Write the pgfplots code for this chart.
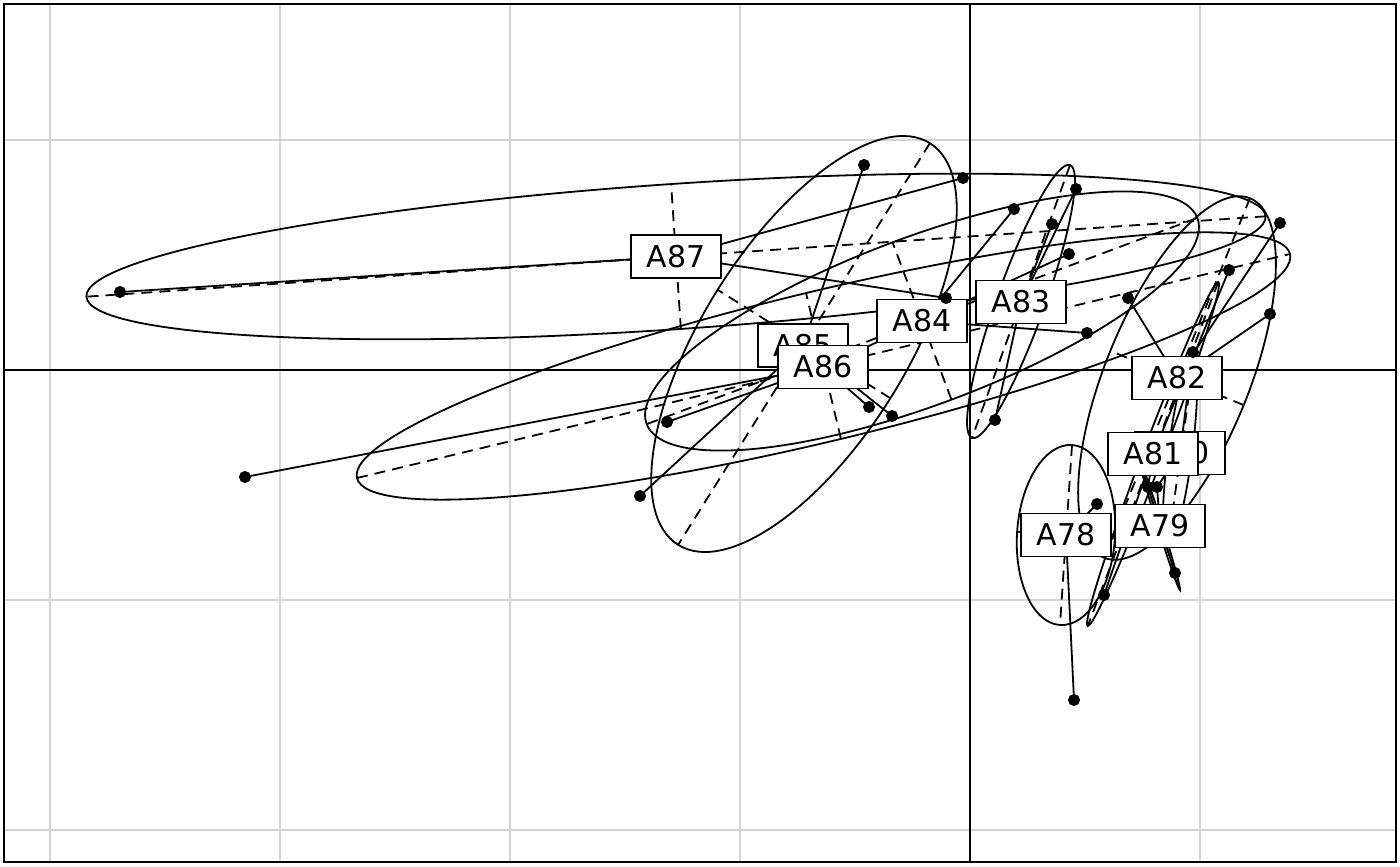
\documentclass[border=0pt]{standalone}
\usepackage{fontspec}
\setmainfont{DejaVu Sans}
\usepackage{pgfplots}
\pgfplotsset{compat=1.18}
\tikzset{
  ell/.style={line width=0.9pt},
  dsh/.style={black, line width=0.9pt, dash pattern=on 5.5pt off 3.5pt},
  st/.style={black, line width=0.9pt},
  lbl/.style={draw, fill=white, line width=0.9pt, inner sep=0pt, minimum width=45pt, minimum height=21.5pt, font=\fontsize{15}{18}\selectfont},
}
\newcommand{\seg}[5]{\addplot[#1, mark=none] coordinates {(#2,#3) (#4,#5)};}
\begin{document}
\begin{tikzpicture}
\begin{axis}[
  x=115pt, y=115pt, scale only axis,
  xmin=-4.2, xmax=1.8522, ymin=-2.1391, ymax=1.5913,
  xtick={-4,-3,-2,-1,1}, ytick={-2,-1,1},
  xticklabels={}, yticklabels={},
  major tick length=0pt,
  grid=major, grid style={color=black!17, line width=1pt},
  axis line style={line width=0.8pt},
]
% axes through origin
\seg{st}{0}{-2.1391}{0}{1.5913}
\seg{st}{-4.2}{0}{1.8522}{0}
% ellipses
\draw[ell, rotate around={3.9:(axis cs:-1.2783,0.4935)}] (axis cs:-1.2783,0.4935) ellipse [x radius=295.5pt, y radius=36.3pt];
\draw[ell, rotate around={13.5:(axis cs:-0.637,0.0174)}] (axis cs:-0.637,0.0174) ellipse [x radius=239.9pt, y radius=37.5pt];
\draw[ell, rotate around={57.9:(axis cs:-0.7217,0.1130)}] (axis cs:-0.7217,0.1130) ellipse [x radius=118.5pt, y radius=51pt];
\draw[ell, rotate around={20.5:(axis cs:-0.2087,0.2130)}] (axis cs:-0.2087,0.2130) ellipse [x radius=147pt, y radius=42pt];
\draw[ell, rotate around={70.25:(axis cs:0.2217,0.2978)}] (axis cs:0.2217,0.2978) ellipse [x radius=72.5pt, y radius=12pt];
\draw[ell, rotate around={67.9:(axis cs:0.9,-0.0348)}] (axis cs:0.9,-0.0348) ellipse [x radius=97pt, y radius=36pt];
\draw[ell, rotate around={69.2:(axis cs:0.7957,-0.3652)}] (axis cs:0.7957,-0.3652) ellipse [x radius=92pt, y radius=5pt];
\draw[ell, rotate around={82.5:(axis cs:0.9130,-0.3609)}] (axis cs:0.9130,-0.3609) ellipse [x radius=47.5pt, y radius=6pt];
\draw[ell, rotate around={-72.7:(axis cs:0.8261,-0.6783)}] (axis cs:0.8261,-0.6783) ellipse [x radius=33.5pt, y radius=1.2pt];
\draw[ell, rotate around={86.2:(axis cs:0.4174,-0.7174)}] (axis cs:0.4174,-0.7174) ellipse [x radius=45.1pt, y radius=24.5pt];
% ellipse axes (dashed)
\seg{dsh}{1.2861}{0.6683}{-3.8426}{0.3187}
\seg{dsh}{-1.2570}{0.1783}{-1.2996}{0.8087}
\seg{dsh}{-2.6652}{-0.4696}{1.3913}{0.5043}
\seg{dsh}{-0.5609}{-0.3}{-0.7130}{0.3348}
\seg{dsh}{-0.1739}{0.9870}{-1.2696}{-0.7609}
\seg{dsh}{-0.3457}{-0.1230}{-1.0978}{0.3491}
\seg{dsh}{0.9870}{0.6609}{-1.4043}{-0.2348}
\seg{dsh}{-0.0809}{-0.1283}{-0.3365}{0.5543}
\seg{dsh}{0.4348}{0.8913}{0.0087}{-0.2957}
\seg{dsh}{0.32}{0.2626}{0.1235}{0.3330}
\seg{dsh}{1.2174}{0.7478}{0.5826}{-0.8174}
\seg{dsh}{1.19}{-0.1526}{0.61}{0.0830}
\seg{dsh}{1.0796}{0.3832}{0.5118}{-1.1136}
\seg{dsh}{0.8322}{-0.3791}{0.7591}{-0.3513}
\seg{dsh}{0.9739}{0.0478}{0.8591}{-0.7696}
\seg{dsh}{0.9517}{-0.3678}{0.8743}{-0.3539}
\seg{dsh}{0.9130}{-0.9565}{0.7391}{-0.4}
\seg{dsh}{0.4435}{-0.3261}{0.3913}{-1.1087}
\seg{dsh}{0.63}{-0.7317}{0.2048}{-0.7030}
% star lines
\seg{st}{-1.2783}{0.4935}{-3.6957}{0.3391}
\seg{st}{-1.2783}{0.4935}{-0.0304}{0.8348}
\seg{st}{-1.2783}{0.4935}{-0.1043}{0.3130}
\seg{st}{-0.6391}{0.0130}{-3.1522}{-0.4652}
\seg{st}{-0.6391}{0.0130}{-1.3174}{-0.2261}
\seg{st}{-0.6391}{0.0130}{-0.4391}{-0.1609}
\seg{st}{-0.6391}{0.0130}{0.4304}{0.5043}
\seg{st}{-0.7261}{0.1065}{-0.4609}{0.8913}
\seg{st}{-0.7261}{0.1065}{-1.4348}{-0.5478}
\seg{st}{-0.7261}{0.1065}{-0.3391}{-0.2}
\seg{st}{-0.2087}{0.2130}{0.1913}{0.7}
\seg{st}{-0.2087}{0.2130}{0.5087}{0.1609}
\seg{st}{0.2217}{0.2957}{0.4609}{0.7870}
\seg{st}{0.2217}{0.2957}{0.3565}{0.6348}
\seg{st}{0.2217}{0.2957}{0.1087}{-0.2174}
\seg{st}{0.9}{-0.0348}{0.6870}{0.3130}
\seg{st}{0.9}{-0.0348}{1.3043}{0.2435}
\seg{st}{0.9}{-0.0348}{1.3478}{0.6391}
\seg{st}{0.7957}{-0.3652}{1.1261}{0.4348}
\seg{st}{0.7957}{-0.3652}{0.5826}{-0.9783}
\seg{st}{0.7957}{-0.3652}{0.7739}{-0.5087}
\seg{st}{0.9130}{-0.3609}{0.9696}{0.0783}
\seg{st}{0.9130}{-0.3609}{0.8130}{-0.5087}
\seg{st}{0.8261}{-0.6783}{0.8913}{-0.8826}
\seg{st}{0.8261}{-0.6783}{0.7739}{-0.5087}
\seg{st}{0.8261}{-0.6783}{0.8130}{-0.5087}
\seg{st}{0.4174}{-0.7174}{0.5522}{-0.5826}
\seg{st}{0.4174}{-0.7174}{0.4522}{-1.4348}
% points
\addplot[only marks, mark=*, mark size=2.8pt, black] coordinates {
(-3.6957,0.3391) (-0.0304,0.8348) (-0.1043,0.3130) (-3.1522,-0.4652)
(-1.3174,-0.2261) (-0.4391,-0.1609) (-0.3391,-0.2) (-0.4609,0.8913)
(-1.4348,-0.5478) (0.1913,0.7) (0.4304,0.5043) (0.5087,0.1609)
(0.4609,0.7870) (0.3565,0.6348) (0.1087,-0.2174) (0.6870,0.3130)
(1.3043,0.2435) (1.3478,0.6391) (0.9696,0.0783) (1.1261,0.4348)
(0.5826,-0.9783) (0.7739,-0.5087) (0.8130,-0.5087) (0.8913,-0.8826)
(0.5522,-0.5826) (0.4522,-1.4348)
};
% labels
\node[lbl] at (axis cs:0.4174,-0.7174) {A78};
\node[lbl] at (axis cs:0.8261,-0.6783) {A79};
\node[lbl] at (axis cs:0.9130,-0.3609) {A80};
\node[lbl] at (axis cs:0.7957,-0.3652) {A81};
\node[lbl] at (axis cs:0.9,-0.0348) {A82};
\node[lbl] at (axis cs:0.2217,0.2957) {A83};
\node[lbl] at (axis cs:-0.2087,0.2130) {A84};
\node[lbl] at (axis cs:-0.7261,0.1065) {A85};
\node[lbl] at (axis cs:-0.6391,0.0130) {A86};
\node[lbl] at (axis cs:-1.2783,0.4935) {A87};
\end{axis}
\pgfresetboundingbox
\path ([shift={(-2pt,-2pt)}]current axis.south west) rectangle ([shift={(2pt,2pt)}]current axis.north east);
\end{tikzpicture}
\end{document}
